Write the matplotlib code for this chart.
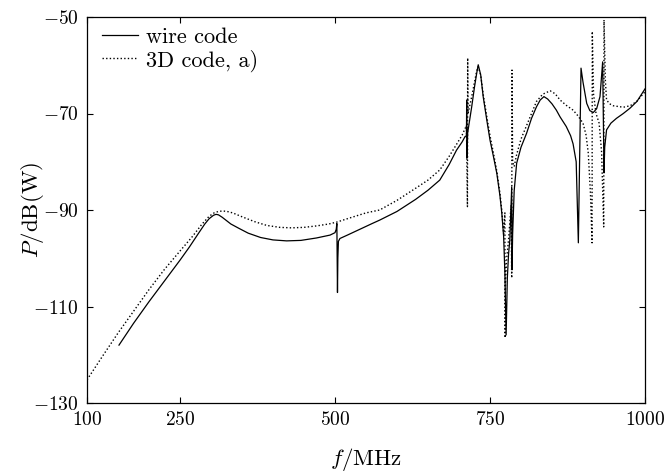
import matplotlib
matplotlib.use("Agg")
import matplotlib.pyplot as plt

plt.rcParams['font.family'] = ['cmr10', 'DejaVu Serif']
plt.rcParams['mathtext.fontset'] = 'cm'
plt.rcParams['axes.formatter.use_mathtext'] = True
plt.rcParams['axes.unicode_minus'] = True

# wire code (solid)
wire_f = [151.6, 175, 200, 225, 250, 265, 280, 290, 297, 304, 308, 312, 318, 324, 332, 345,
          360, 380, 400, 422, 445, 470, 492, 500, 502, 503, 503.5, 504, 504.6, 505.5, 508,
          520, 540, 560, 572, 600, 630, 650, 669, 684, 696, 705, 709.7, 712, 712.4, 712.8,
          714, 720.5, 725, 728.5, 731, 735, 739, 745, 750, 756, 761, 766, 769, 772, 774, 776,
          778, 780, 782, 785, 785.5, 786.5, 789, 793, 800, 809, 817, 825, 831, 837, 843, 850,
          857, 863, 873, 880, 884, 889, 892.5, 896.8, 900, 906, 911, 916.6, 922, 927.4,
          931.7, 933.9, 935, 938, 945, 954, 965, 975.8, 987, 1000]
wire_p = [-118.0, -113.5, -109.0, -104.7, -100.4, -97.7, -94.8, -92.9, -91.8, -91.1, -90.9,
          -91.0, -91.5, -92.1, -92.9, -93.8, -94.8, -95.7, -96.2, -96.4, -96.3, -95.8, -95.2,
          -94.7, -94.0, -92.8, -100.0, -107.1, -100.0, -96.5, -95.9, -95.2, -94.0, -92.8,
          -92.1, -90.3, -87.8, -85.9, -83.8, -80.6, -77.6, -75.9, -74.8, -74.6, -67.2, -79.2,
          -74.0, -68.6, -64.5, -61.7, -59.9, -62.0, -66.5, -71.5, -75.5, -79.2, -82.4, -87.0,
          -90.6, -95.5, -103.0, -115.9, -104.0, -99.0, -96.2, -85.2, -102.4, -95.0, -86.0,
          -80.3, -77.0, -74.1, -71.0, -68.6, -67.2, -66.5, -67.0, -68.0, -69.3, -70.7, -72.7,
          -74.6, -76.3, -80.0, -96.8, -60.6, -63.5, -67.9, -69.4, -69.8, -69.0, -66.5, -59.3,
          -82.3, -77.0, -73.4, -72.0, -71.0, -70.0, -68.9, -67.5, -64.9]

# 3D code, a) (dotted)
d3_f = [100, 125, 150, 175, 200, 225, 250, 270, 285, 297, 305, 312, 319, 326, 335, 350, 370,
        390, 411, 430, 450, 470, 490, 503, 530, 550, 572, 600, 630, 650, 669, 684, 696, 705,
        712, 713.6, 714, 714.6, 720.5, 725, 728.5, 731, 735, 739, 745, 750, 756, 761, 766,
        769, 772, 774, 774.4, 775, 777, 780, 784, 785, 785.5, 786.5, 789, 793, 800, 809,
        817, 825, 835, 847, 855, 863, 873, 884, 892, 900, 905, 908.5, 912, 914.6, 915, 917,
        921, 926, 930, 933.4, 933.9, 936, 938, 943, 949, 965, 976, 986.6, 1000]
d3_p = [-125.2, -120.3, -115.5, -111.0, -106.5, -102.3, -98.5, -95.5, -93.0, -91.3, -90.6,
        -90.3, -90.2, -90.3, -90.6, -91.4, -92.4, -93.2, -93.6, -93.7, -93.6, -93.3, -92.9,
        -92.5, -91.4, -90.6, -90.0, -88.0, -85.5, -83.8, -81.7, -78.9, -76.4, -74.5, -72.5,
        -89.3, -58.5, -70.0, -66.5, -63.5, -61.2, -60.3, -62.0, -66.0, -70.8, -74.6, -78.5,
        -82.0, -86.5, -90.0, -95.0, -90.6, -116.5, -105.0, -100.0, -96.0, -89.0, -104.1,
        -61.0, -80.0, -81.0, -78.5, -75.3, -72.5, -70.0, -67.5, -66.0, -65.3, -65.9, -67.2,
        -68.3, -69.3, -70.5, -72.0, -74.5, -78.2, -86.5, -96.8, -53.0, -66.0, -70.0, -72.0,
        -78.0, -93.5, -50.6, -63.0, -67.2, -68.0, -68.4, -68.7, -68.4, -67.5, -65.5]

x_ticks = [100, 250, 500, 750, 1000]
y_ticks = [-130, -110, -90, -70, -50]

fig = plt.figure(figsize=(6.7, 4.72), dpi=100)
ax = fig.add_axes([87 / 670, 1 - 403 / 472, (645 - 87) / 670, (403 - 17) / 472])

ax.plot(wire_f, wire_p, color='black', lw=0.9, ls='-', label='wire code')
ax.plot(d3_f, d3_p, color='black', lw=1.0, ls=(0, (1, 1.6)), label='3D code, a)')

ax.set_xlim(100, 1000)
ax.set_ylim(-130, -50)
ax.set_xticks(x_ticks)
ax.set_yticks(y_ticks)
ax.tick_params(direction='in', top=True, right=True, length=4, width=0.8,
               labelsize=14, pad=6)
for s in ax.spines.values():
    s.set_linewidth(0.9)

ax.set_xlabel(r'$f$/MHz', fontsize=16.5, labelpad=12)
ax.set_ylabel(r'$P$/dB(W)', fontsize=16.5, labelpad=-9)

ax.legend(loc='upper left', bbox_to_anchor=(0.009, 1.0), frameon=False, fontsize=16,
          handlelength=1.6, handletextpad=0.36, borderaxespad=0.1, borderpad=0.35,
          labelspacing=0.12)

fig.savefig('out.png', dpi=100)
